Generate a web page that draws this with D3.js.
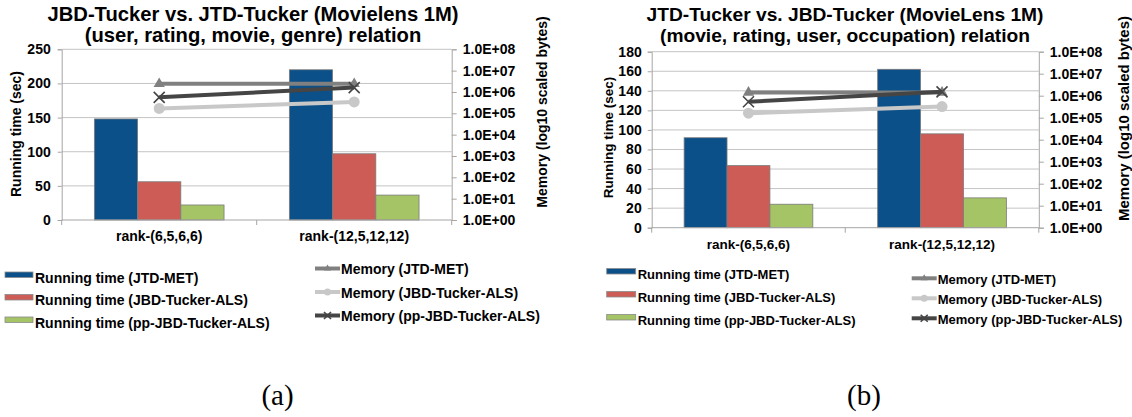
<!DOCTYPE html>
<html>
<head>
<meta charset="utf-8">
<script src="https://cdn.jsdelivr.net/npm/d3@7"></script>
<style>
  html, body { margin: 0; padding: 0; background: #ffffff; }
  svg { display: block; }
  text { font-family: "Liberation Sans", Arial, sans-serif; fill: #000; }
</style>
</head>
<body>
<svg id="chart" width="1132" height="417"></svg>
<script>
// ---------------- DATA ----------------
const categories = ["rank-(6,5,6,6)", "rank-(12,5,12,12)"];
const barSeries = ["Running time (JTD-MET)", "Running time (JBD-Tucker-ALS)", "Running time (pp-JBD-Tucker-ALS)"];
const lineSeries = ["Memory (JTD-MET)", "Memory (JBD-Tucker-ALS)", "Memory (pp-JBD-Tucker-ALS)"];

// chart (a): (user, rating, movie, genre)
const aTimeJtdMet = [148, 220];
const aTimeJbdAls = [56, 97];
const aTimePpJbdAls = [22, 36.5];
const aMemJtdMet = [2.4e6, 2.4e6];
const aMemJbdAls = [1.7e5, 3.4e5];
const aMemPpJbdAls = [5.6e5, 1.6e6];
const aTimeTicks = [0, 50, 100, 150, 200, 250];

// chart (b): (movie, rating, user, occupation)
const bTimeJtdMet = [92, 162];
const bTimeJbdAls = [63.5, 96];
const bTimePpJbdAls = [24, 30.5];
const bMemJtdMet = [1.4e6, 1.4e6];
const bMemJbdAls = [1.6e5, 3.2e5];
const bMemPpJbdAls = [5.3e5, 1.5e6];
const bTimeTicks = [0, 20, 40, 60, 80, 100, 120, 140, 160, 180];

const memTicks = [1e0, 1e1, 1e2, 1e3, 1e4, 1e5, 1e6, 1e7, 1e8];
const memTickLabels = ["1.0E+00", "1.0E+01", "1.0E+02", "1.0E+03", "1.0E+04", "1.0E+05", "1.0E+06", "1.0E+07", "1.0E+08"];

const titlesA = ["JBD-Tucker vs. JTD-Tucker (Movielens 1M)", "(user, rating, movie, genre) relation"];
const titlesB = ["JTD-Tucker vs. JBD-Tucker (MovieLens 1M)", "(movie, rating, user, occupation) relation"];
const yTitle = "Running time (sec)";
const y2Title = "Memory (log10 scaled bytes)";
const captions = ["(a)", "(b)"];

// ---------------- STYLE ----------------
const barColors = ["#0b5089", "#cd5c56", "#a5c465"];
const lineColors = ["#808080", "#c8c8c8", "#454545"];
const markers = ["triangle", "circle", "x"];
const gridColor = "#c4c4c4";
const axisColor = "#a6a6a6";

const svg = d3.select("#chart");

function drawMarker(g, type, x, y, s, color) {
  if (type === "triangle") {
    g.append("path")
      .attr("d", d3.symbol().type(d3.symbolTriangle).size(s * s * 0.45)())
      .attr("transform", `translate(${x},${y})`)
      .attr("fill", color);
  } else if (type === "circle") {
    g.append("circle").attr("cx", x).attr("cy", y).attr("r", s / 2).attr("fill", color);
  } else {
    const h = s / 2;
    g.append("path")
      .attr("d", `M${x - h},${y - h}L${x + h},${y + h}M${x - h},${y + h}L${x + h},${y - h}`)
      .attr("stroke", color).attr("stroke-width", 1.6).attr("fill", "none");
  }
}

function drawChart(cfg) {
  const g = svg.append("g");
  const x0 = d3.scaleBand().domain(categories).range([cfg.left, cfg.right]).paddingInner(0).paddingOuter(0);
  const groupW = x0.bandwidth() * 0.665;
  const x1 = d3.scaleBand().domain(barSeries).range([0, groupW]);
  const y = d3.scaleLinear().domain([0, cfg.timeTicks[cfg.timeTicks.length - 1]]).range([cfg.bottom, cfg.top]);
  const yR = d3.scaleLog().domain([1, 1e8]).range([cfg.bottom, cfg.top]);

  // gridlines
  g.append("g").selectAll("line").data(cfg.timeTicks.filter(t => t > 0)).join("line")
    .attr("x1", cfg.left).attr("x2", cfg.right)
    .attr("y1", d => y(d)).attr("y2", d => y(d))
    .attr("stroke", gridColor).attr("stroke-width", 1);

  // bars
  const barData = [];
  categories.forEach((c, i) => {
    cfg.times.forEach((arr, s) => barData.push({ c, s, v: arr[i] }));
  });
  g.append("g").selectAll("rect").data(barData).join("rect")
    .attr("x", d => x0(d.c) + (x0.bandwidth() - groupW) / 2 + x1(barSeries[d.s]))
    .attr("width", x1.bandwidth())
    .attr("y", d => y(d.v))
    .attr("height", d => y(0) - y(d.v))
    .attr("fill", d => barColors[d.s])
    .attr("stroke", "#7a7a7a").attr("stroke-width", 0.8);

  // left axis
  const axL = g.append("g").attr("transform", `translate(${cfg.left},0)`)
    .call(d3.axisLeft(y).tickValues(cfg.timeTicks).tickSize(4).tickPadding(cfg.padL));
  axL.select(".domain").attr("stroke", axisColor);
  axL.selectAll(".tick line").attr("stroke", axisColor);
  axL.selectAll(".tick text").style("font-family", "Liberation Sans, Arial, sans-serif")
    .style("font-size", cfg.tickFont + "px").style("font-weight", "bold").attr("fill", "#000");

  // right axis
  const axR = g.append("g").attr("transform", `translate(${cfg.right},0)`)
    .call(d3.axisRight(yR).tickValues(memTicks).tickFormat((d, i) => memTickLabels[i]).tickSize(5).tickPadding(cfg.padR));
  axR.select(".domain").attr("stroke", axisColor);
  axR.selectAll(".tick line").attr("stroke", axisColor);
  axR.selectAll(".tick text").style("font-family", "Liberation Sans, Arial, sans-serif")
    .style("font-size", cfg.tickFont + "px").style("font-weight", "bold").attr("fill", "#000");

  // bottom axis (ticks between categories)
  const axB = g.append("g");
  axB.append("line").attr("x1", cfg.left).attr("x2", cfg.right).attr("y1", cfg.bottom).attr("y2", cfg.bottom)
    .attr("stroke", axisColor);
  const bounds = categories.map(c => x0(c)).concat([cfg.right]);
  axB.selectAll("line.tk").data(bounds).join("line").attr("class", "tk")
    .attr("x1", d => d).attr("x2", d => d).attr("y1", cfg.bottom).attr("y2", cfg.bottom + 5)
    .attr("stroke", axisColor);
  axB.selectAll("text").data(categories).join("text")
    .attr("x", d => x0(d) + x0.bandwidth() / 2).attr("y", cfg.bottom + cfg.catDy)
    .attr("text-anchor", "middle").style("font-size", cfg.catFont + "px").style("font-weight", "bold")
    .text(d => d);

  // memory lines
  cfg.mems.forEach((arr, s) => {
    const pts = categories.map((c, i) => [x0(c) + x0.bandwidth() / 2, yR(arr[i])]);
    g.append("path").attr("d", d3.line()(pts)).attr("fill", "none")
      .attr("stroke", lineColors[s]).attr("stroke-width", 4);
    pts.forEach(p => drawMarker(g, markers[s], p[0], p[1], 11, lineColors[s]));
  });

  // titles
  cfg.titles.forEach((t, i) => {
    g.append("text").attr("x", cfg.titleX).attr("y", cfg.titleY[i]).attr("text-anchor", "middle")
      .style("font-size", cfg.titleFont + "px").style("font-weight", "bold").text(t);
  });

  // axis titles
  g.append("text").attr("transform", `translate(${cfg.yTitleX},${cfg.yTitleY}) rotate(-90)`)
    .attr("text-anchor", "middle").attr("dy", "0.35em")
    .style("font-size", cfg.yTitleFont + "px").style("font-weight", "bold").text(yTitle);
  g.append("text").attr("transform", `translate(${cfg.y2TitleX},${cfg.y2TitleY}) rotate(-90)`)
    .attr("text-anchor", "middle").attr("dy", "0.35em")
    .style("font-size", cfg.y2TitleFont + "px").style("font-weight", "bold").text(y2Title);

  // bar legend
  barSeries.forEach((name, i) => {
    const yy = cfg.legBarY + i * cfg.legBarGap;
    g.append("rect").attr("x", cfg.legBarX).attr("y", yy).attr("width", cfg.legBarW).attr("height", 5.5)
      .attr("fill", barColors[i]).attr("stroke", "#8a8a8a").attr("stroke-width", 0.8);
    g.append("text").attr("x", cfg.legBarX + cfg.legBarW + 2).attr("y", yy + cfg.legTextDy)
      .style("font-size", cfg.legFont + "px").style("font-weight", "bold").text(name);
  });
  // line legend
  lineSeries.forEach((name, i) => {
    const yy = cfg.legLineY + i * cfg.legLineGap;
    g.append("line").attr("x1", cfg.legLineX).attr("x2", cfg.legLineX + 25).attr("y1", yy).attr("y2", yy)
      .attr("stroke", lineColors[i]).attr("stroke-width", 4);
    drawMarker(g, markers[i], cfg.legLineX + 12.5, yy, 7, lineColors[i]);
    g.append("text").attr("x", cfg.legLineX + 26).attr("y", yy + 5.5)
      .style("font-size", cfg.legFont + "px").style("font-weight", "bold").text(name);
  });

  // caption
  svg.append("text").attr("x", cfg.capX).attr("y", 405).attr("text-anchor", "middle")
    .style("font-family", "Liberation Serif, 'Times New Roman', serif")
    .style("font-size", "29px").text(cfg.caption);
}

drawChart({
  left: 61.7, right: 451.7, top: 49.3, bottom: 220,
  timeTicks: aTimeTicks, times: [aTimeJtdMet, aTimeJbdAls, aTimePpJbdAls],
  mems: [aMemJtdMet, aMemJbdAls, aMemPpJbdAls],
  padL: 7, padR: 6, tickFont: 14, catFont: 14, catDy: 21,
  titles: titlesA, titleX: 253, titleY: [21, 42], titleFont: 20.2,
  yTitleX: 16, yTitleY: 134, yTitleFont: 14,
  y2TitleX: 542, y2TitleY: 112, y2TitleFont: 14,
  legBarX: 5, legBarY: 272, legBarGap: 22.5, legBarW: 28, legTextDy: 10.5, legFont: 14,
  legLineX: 315, legLineY: 268.5, legLineGap: 23.5,
  caption: captions[0], capX: 277.5
});

drawChart({
  left: 651.7, right: 1038.8, top: 51.7, bottom: 227.7,
  timeTicks: bTimeTicks, times: [bTimeJtdMet, bTimeJbdAls, bTimePpJbdAls],
  mems: [bMemJtdMet, bMemJbdAls, bMemPpJbdAls],
  padL: 6, padR: 6, tickFont: 14, catFont: 13.5, catDy: 21,
  titles: titlesB, titleX: 845, titleY: [21, 42], titleFont: 19.2,
  yTitleX: 608.5, yTitleY: 137.5, yTitleFont: 13.5,
  y2TitleX: 1124, y2TitleY: 118.5, y2TitleFont: 15,
  legBarX: 606.7, legBarY: 268.5, legBarGap: 23, legBarW: 29, legTextDy: 10, legFont: 13,
  legLineX: 911.7, legLineY: 278.3, legLineGap: 20,
  caption: captions[1], capX: 864
});
</script>
</body>
</html>
